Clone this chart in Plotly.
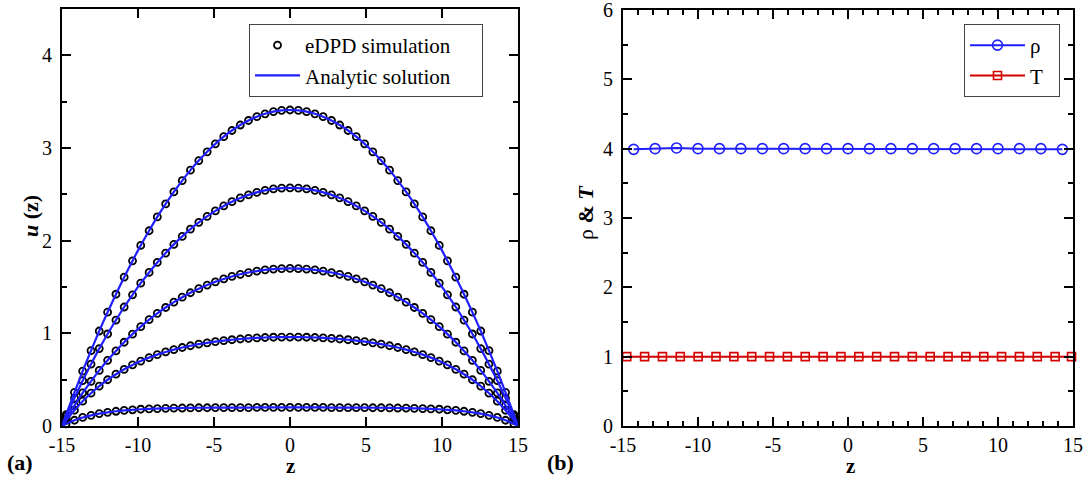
import plotly.graph_objects as go

# ---------------- data ----------------
# (a) velocity profiles u(z) across the channel, five driving cases
z_sim = [-14.73, -14.18, -13.64, -13.09, -12.55, -12.00, -11.45, -10.91, -10.36, -9.82,
         -9.27, -8.73, -8.18, -7.64, -7.09, -6.55, -6.00, -5.45, -4.91, -4.36,
         -3.82, -3.27, -2.73, -2.18, -1.64, -1.09, -0.55, 0.00, 0.55, 1.09,
         1.64, 2.18, 2.73, 3.27, 3.82, 4.36, 4.91, 5.45, 6.00, 6.55,
         7.09, 7.64, 8.18, 8.73, 9.27, 9.82, 10.36, 10.91, 11.45, 12.00,
         12.55, 13.09, 13.64, 14.18, 14.73]

u_case1 = [0.123, 0.362, 0.592, 0.813, 1.025, 1.228, 1.422, 1.606, 1.782, 1.949,
           2.107, 2.256, 2.396, 2.526, 2.648, 2.761, 2.864, 2.959, 3.045, 3.122,
           3.189, 3.248, 3.297, 3.338, 3.369, 3.392, 3.406, 3.410, 3.406, 3.392,
           3.369, 3.338, 3.297, 3.248, 3.189, 3.122, 3.045, 2.959, 2.864, 2.761,
           2.648, 2.526, 2.396, 2.256, 2.107, 1.949, 1.782, 1.606, 1.422, 1.228,
           1.025, 0.813, 0.592, 0.362, 0.123]
u_case2 = [0.103, 0.301, 0.489, 0.667, 0.835, 0.993, 1.143, 1.284, 1.416, 1.541,
           1.657, 1.765, 1.866, 1.960, 2.046, 2.125, 2.198, 2.263, 2.322, 2.375,
           2.421, 2.461, 2.494, 2.521, 2.543, 2.558, 2.567, 2.570, 2.567, 2.558,
           2.543, 2.521, 2.494, 2.461, 2.421, 2.375, 2.322, 2.263, 2.198, 2.125,
           2.046, 1.960, 1.866, 1.765, 1.657, 1.541, 1.416, 1.284, 1.143, 0.993,
           0.835, 0.667, 0.489, 0.301, 0.103]
u_case3 = [0.077, 0.221, 0.357, 0.482, 0.600, 0.709, 0.810, 0.904, 0.991, 1.072,
           1.147, 1.216, 1.279, 1.337, 1.390, 1.438, 1.482, 1.521, 1.556, 1.587,
           1.614, 1.637, 1.656, 1.672, 1.684, 1.693, 1.698, 1.700, 1.698, 1.693,
           1.684, 1.672, 1.656, 1.637, 1.614, 1.587, 1.556, 1.521, 1.482, 1.438,
           1.390, 1.337, 1.279, 1.216, 1.147, 1.072, 0.991, 0.904, 0.810, 0.709,
           0.600, 0.482, 0.357, 0.221, 0.077]
u_case4 = [0.060, 0.170, 0.268, 0.354, 0.431, 0.499, 0.559, 0.612, 0.659, 0.701,
           0.738, 0.770, 0.799, 0.824, 0.847, 0.866, 0.883, 0.898, 0.911, 0.922,
           0.931, 0.939, 0.946, 0.951, 0.955, 0.958, 0.959, 0.960, 0.959, 0.958,
           0.955, 0.951, 0.946, 0.939, 0.931, 0.922, 0.911, 0.898, 0.883, 0.866,
           0.847, 0.824, 0.799, 0.770, 0.738, 0.701, 0.659, 0.612, 0.559, 0.499,
           0.431, 0.354, 0.268, 0.170, 0.060]
u_case5 = [0.023, 0.062, 0.092, 0.115, 0.134, 0.148, 0.159, 0.168, 0.175, 0.181,
           0.185, 0.188, 0.191, 0.193, 0.194, 0.196, 0.197, 0.197, 0.198, 0.198,
           0.199, 0.199, 0.199, 0.200, 0.200, 0.200, 0.200, 0.200, 0.200, 0.200,
           0.200, 0.200, 0.199, 0.199, 0.199, 0.198, 0.198, 0.197, 0.197, 0.196,
           0.194, 0.193, 0.191, 0.188, 0.185, 0.181, 0.175, 0.168, 0.159, 0.148,
           0.134, 0.115, 0.092, 0.062, 0.023]
profiles = [u_case1, u_case2, u_case3, u_case4, u_case5]

# no-slip walls
wall_z = [-15.0, 15.0]
wall_u = 0.0

# (b) density and temperature across the channel
z_rho = [-14.29, -12.86, -11.43, -10.00, -8.57, -7.14, -5.71, -4.29, -2.86, -1.43,
         0.00, 1.43, 2.86, 4.29, 5.71, 7.14, 8.57, 10.00, 11.43, 12.86, 14.29]
rho = [3.99, 4.00, 4.01, 4.00, 4.00, 4.00, 4.00, 4.00, 4.00, 4.00,
       4.00, 4.00, 4.00, 4.00, 4.00, 4.00, 4.00, 4.00, 4.00, 4.00, 3.99]
z_T = [-14.75, -13.56, -12.37, -11.18, -9.99, -8.80, -7.61, -6.42, -5.23, -4.04,
       -2.85, -1.66, -0.47, 0.72, 1.91, 3.10, 4.29, 5.48, 6.67, 7.86,
       9.05, 10.24, 11.43, 12.62, 13.81, 14.90]
T = [1.00] * len(z_T)

x_ticks = [-15, -10, -5, 0, 5, 10, 15]
x_tick_text = ["-15", "-10", "-5", "0", "5", "10", "15"]

# ---------------- figure ----------------
W, H = 1089, 477
SERIF = "Liberation Serif, Times New Roman, serif"
BLUE = "#1f1fff"
RED = "#d40000"
PAD = "\u00a0" * 5  # trailing room inside the legend boxes

fig = go.Figure()

# simulation markers (drawn first so the analytic curves sit on top)
for i, u in enumerate(profiles):
    fig.add_trace(go.Scatter(
        x=z_sim, y=u, mode="markers", name="eDPD simulation" + PAD,
        marker=dict(symbol="circle-open", size=7, color="black",
                    line=dict(width=1.8, color="black")),
        showlegend=(i == 0), legend="legend", xaxis="x", yaxis="y",
        cliponaxis=False))

for i, u in enumerate(profiles):
    fig.add_trace(go.Scatter(
        x=[wall_z[0]] + z_sim + [wall_z[1]], y=[wall_u] + u + [wall_u],
        mode="lines", name="Analytic solution" + PAD,
        line=dict(color=BLUE, width=2.2, shape="spline", smoothing=0.6),
        showlegend=(i == 0), legend="legend", xaxis="x", yaxis="y"))

fig.add_trace(go.Scatter(
    x=z_rho, y=rho, mode="lines+markers", name="\u03c1" + PAD[:2],
    line=dict(color=BLUE, width=2),
    marker=dict(symbol="circle-open", size=10, color=BLUE, line=dict(width=1.6)),
    legend="legend2", xaxis="x2", yaxis="y2", cliponaxis=False))
fig.add_trace(go.Scatter(
    x=z_T, y=T, mode="lines+markers", name="T" + PAD[:2],
    line=dict(color=RED, width=2),
    marker=dict(symbol="square-open", size=8, color=RED, line=dict(width=1.6)),
    legend="legend2", xaxis="x2", yaxis="y2", cliponaxis=False))


def px_x(p):
    return p / W


def px_y(p):
    return 1 - p / H


axis_common = dict(
    showline=True, linewidth=2, linecolor="black", mirror="ticks",
    ticks="inside", ticklen=9, tickwidth=2, tickcolor="black",
    showgrid=False, zeroline=False, automargin=False,
    ticklabeloverflow="allow",
    tickfont=dict(family=SERIF, size=20, color="black"),
)
minor_y = dict(dtick=0.5, ticklen=5, tickwidth=1.5, ticks="inside", tickcolor="black")

fig.update_layout(
    template="none",
    width=W, height=H,
    margin=dict(l=0, r=0, t=0, b=0, autoexpand=False),
    paper_bgcolor="white", plot_bgcolor="white",
    xaxis=dict(domain=[px_x(62), px_x(518)], range=[-15, 15],
               tickvals=x_ticks, ticktext=x_tick_text, anchor="y",
               ticklabelstandoff=0, **axis_common),
    yaxis=dict(domain=[px_y(426), px_y(9)], range=[0, 4.5], dtick=1, tick0=0,
               anchor="x", ticklabelstandoff=4, minor=minor_y, **axis_common),
    xaxis2=dict(domain=[px_x(623), px_x(1073)], range=[-15, 15],
                tickvals=x_ticks, ticktext=x_tick_text, anchor="y2",
                ticklabelstandoff=0,
                minor=dict(dtick=1, tick0=0, ticklen=5, tickwidth=1.5,
                           ticks="inside", tickcolor="black"),
                **axis_common),
    yaxis2=dict(domain=[px_y(426), px_y(10)], range=[0, 6], dtick=1, tick0=0,
                anchor="x2", ticklabelstandoff=4, minor=minor_y, **axis_common),
    legend=dict(x=px_x(483), y=px_y(24), xanchor="right", yanchor="top",
                bgcolor="white", bordercolor="#444", borderwidth=1,
                font=dict(family=SERIF, size=21, color="black"),
                itemwidth=45),
    legend2=dict(x=px_x(1060), y=px_y(24), xanchor="right", yanchor="top",
                 bgcolor="white", bordercolor="#444", borderwidth=1,
                 font=dict(family=SERIF, size=21, color="black"),
                 itemwidth=55),
    showlegend=True,
)

ann_font = dict(family=SERIF, size=22, color="black")
z_font = dict(family=SERIF, size=21, color="black")
annotations = [
    dict(text="<b><i>u</i> (z)</b>", x=px_x(30), y=px_y(216), textangle=-90, font=ann_font),
    dict(text="\u03c1 <b>&amp; <i>T</i></b>", x=px_x(585), y=px_y(213), textangle=-90,
         font=ann_font),
    dict(text="<b>z</b>", x=px_x(290), y=px_y(466), font=z_font),
    dict(text="<b>z</b>", x=px_x(850), y=px_y(466), font=z_font),
    dict(text="<b>(a)</b>", x=px_x(20), y=px_y(462), font=ann_font),
    dict(text="<b>(b)</b>", x=px_x(560), y=px_y(462), font=ann_font),
]
for a in annotations:
    fig.add_annotation(xref="paper", yref="paper", showarrow=False,
                       xanchor="center", yanchor="middle", **a)

fig.write_html("out.html")
